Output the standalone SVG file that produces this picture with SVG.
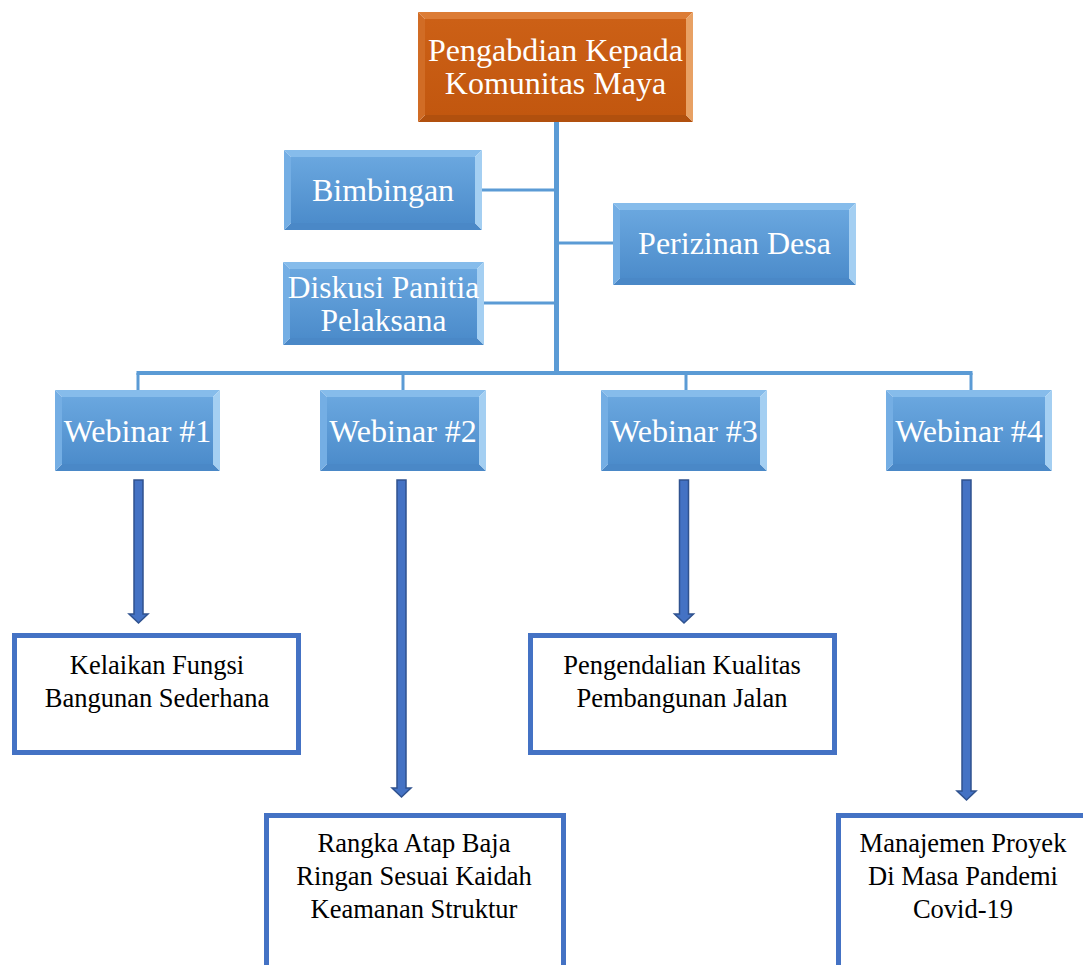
<svg xmlns="http://www.w3.org/2000/svg" width="1083" height="965" viewBox="0 0 1083 965">
<style>
.bt{fill:#86BCEB}.bl{fill:#74AEE4}.br{fill:#A4CFF2}.bb{fill:#4A88C7}
.ot{fill:#DC7C35}.ol{fill:#D16C25}.or{fill:#E8A164}.ob{fill:#B1500E}
.fb{fill:url(#gb)}.fo{fill:url(#go)}
.wt{font-family:"Liberation Serif","Times New Roman",serif;font-size:32px;fill:#FFFFFF;text-anchor:middle}
.kt{font-family:"Liberation Serif","Times New Roman",serif;font-size:26.5px;fill:#000000;text-anchor:middle}
.ob2{fill:#FFFFFF;stroke:#4472C4;stroke-width:5}
.ar{fill:#4472C4;stroke:#2F528F;stroke-width:1.5}
.cn{stroke:#5B9BD5;fill:none}
</style>
<defs>
<linearGradient id="gb" x1="0" y1="0" x2="0" y2="1"><stop offset="0" stop-color="#6AA7DF"/><stop offset="1" stop-color="#4C8CCB"/></linearGradient>
<linearGradient id="go" x1="0" y1="0" x2="0" y2="1"><stop offset="0" stop-color="#CC6016"/><stop offset="1" stop-color="#C2570F"/></linearGradient>
</defs>
<rect width="1083" height="965" fill="#FFFFFF"/>
<g id="connectors">
<line class="cn" x1="556.5" y1="122" x2="556.5" y2="375" stroke-width="5"/>
<line class="cn" x1="482" y1="190" x2="556" y2="190" stroke-width="3"/>
<line class="cn" x1="557" y1="243" x2="613" y2="243" stroke-width="3"/>
<line class="cn" x1="484" y1="303" x2="556" y2="303" stroke-width="3"/>
<line class="cn" x1="136.5" y1="373" x2="972.5" y2="373" stroke-width="4"/>
<line class="cn" x1="138" y1="373" x2="138" y2="390" stroke-width="3"/>
<line class="cn" x1="403" y1="373" x2="403" y2="390" stroke-width="3"/>
<line class="cn" x1="686" y1="373" x2="686" y2="390" stroke-width="3"/>
<line class="cn" x1="971" y1="373" x2="971" y2="390" stroke-width="3"/>
<path class="ar" d="M134,480 H143 V614 H148 L138.5,623 L129,614 H134 Z"/>
<path class="ar" d="M397,480 H406 V788 H411 L401.5,797 L392,788 H397 Z"/>
<path class="ar" d="M679.5,480 H688.5 V614 H693.5 L684,623 L674.5,614 H679.5 Z"/>
<path class="ar" d="M962,480 H971 V791 H976 L966.5,800 L957,791 H962 Z"/>
</g>
<g id="root">
<polygon class="ot" points="418,12 693,12 686,19 425,19"/>
<polygon class="ob" points="418,122 693,122 686,115 425,115"/>
<polygon class="ol" points="418,12 425,19 425,115 418,122"/>
<polygon class="or" points="693,12 686,19 686,115 693,122"/>
<rect class="fo" x="425" y="19" width="261" height="96"/>
<text class="wt" x="555.5" y="61">Pengabdian Kepada</text>
<text class="wt" x="555.5" y="94">Komunitas Maya</text>
</g>
<g id="bimbingan">
<polygon class="bt" points="284,150 482,150 475,157 291,157"/>
<polygon class="bb" points="284,230 482,230 475,223 291,223"/>
<polygon class="bl" points="284,150 291,157 291,223 284,230"/>
<polygon class="br" points="482,150 475,157 475,223 482,230"/>
<rect class="fb" x="291" y="157" width="184" height="66"/>
<text class="wt" x="383" y="201">Bimbingan</text>
</g>
<g id="perizinan">
<polygon class="bt" points="613,203 856,203 849,210 620,210"/>
<polygon class="bb" points="613,285 856,285 849,278 620,278"/>
<polygon class="bl" points="613,203 620,210 620,278 613,285"/>
<polygon class="br" points="856,203 849,210 849,278 856,285"/>
<rect class="fb" x="620" y="210" width="229" height="68"/>
<text class="wt" x="734.5" y="254">Perizinan Desa</text>
</g>
<g id="diskusi">
<polygon class="bt" points="283,262 484,262 477,269 290,269"/>
<polygon class="bb" points="283,345 484,345 477,338 290,338"/>
<polygon class="bl" points="283,262 290,269 290,338 283,345"/>
<polygon class="br" points="484,262 477,269 477,338 484,345"/>
<rect class="fb" x="290" y="269" width="187" height="69"/>
<text class="wt" x="383.5" y="298" style="font-size:31.5px">Diskusi Panitia</text>
<text class="wt" x="383.5" y="331" style="font-size:31.5px">Pelaksana</text>
</g>
<g id="webinar1">
<polygon class="bt" points="55,390 220,390 213,397 62,397"/>
<polygon class="bb" points="55,471 220,471 213,464 62,464"/>
<polygon class="bl" points="55,390 62,397 62,464 55,471"/>
<polygon class="br" points="220,390 213,397 213,464 220,471"/>
<rect class="fb" x="62" y="397" width="151" height="67"/>
<text class="wt" x="137.5" y="442">Webinar #1</text>
</g>
<g id="webinar2">
<polygon class="bt" points="320,390 486,390 479,397 327,397"/>
<polygon class="bb" points="320,471 486,471 479,464 327,464"/>
<polygon class="bl" points="320,390 327,397 327,464 320,471"/>
<polygon class="br" points="486,390 479,397 479,464 486,471"/>
<rect class="fb" x="327" y="397" width="152" height="67"/>
<text class="wt" x="403" y="442">Webinar #2</text>
</g>
<g id="webinar3">
<polygon class="bt" points="601,390 767,390 760,397 608,397"/>
<polygon class="bb" points="601,471 767,471 760,464 608,464"/>
<polygon class="bl" points="601,390 608,397 608,464 601,471"/>
<polygon class="br" points="767,390 760,397 760,464 767,471"/>
<rect class="fb" x="608" y="397" width="152" height="67"/>
<text class="wt" x="684" y="442">Webinar #3</text>
</g>
<g id="webinar4">
<polygon class="bt" points="886,390 1052,390 1045,397 893,397"/>
<polygon class="bb" points="886,471 1052,471 1045,464 893,464"/>
<polygon class="bl" points="886,390 893,397 893,464 886,471"/>
<polygon class="br" points="1052,390 1045,397 1045,464 1052,471"/>
<rect class="fb" x="893" y="397" width="152" height="67"/>
<text class="wt" x="969" y="442">Webinar #4</text>
</g>
<g id="topic1">
<rect class="ob2" x="14.5" y="635.5" width="284" height="117"/>
<text class="kt" x="157" y="674">Kelaikan Fungsi</text>
<text class="kt" x="157" y="707">Bangunan Sederhana</text>
</g>
<g id="topic3">
<rect class="ob2" x="530.5" y="635.5" width="304" height="117"/>
<text class="kt" x="682" y="674">Pengendalian Kualitas</text>
<text class="kt" x="682" y="707">Pembangunan Jalan</text>
</g>
<g id="topic2">
<rect class="ob2" x="266.5" y="815.5" width="297" height="160"/>
<text class="kt" x="414" y="852">Rangka Atap Baja</text>
<text class="kt" x="414" y="885">Ringan Sesuai Kaidah</text>
<text class="kt" x="414" y="918">Keamanan Struktur</text>
</g>
<g id="topic4">
<rect class="ob2" x="838.5" y="815.5" width="260" height="160"/>
<text class="kt" x="963" y="852">Manajemen Proyek</text>
<text class="kt" x="963" y="885">Di Masa Pandemi</text>
<text class="kt" x="963" y="918">Covid-19</text>
</g>
</svg>
